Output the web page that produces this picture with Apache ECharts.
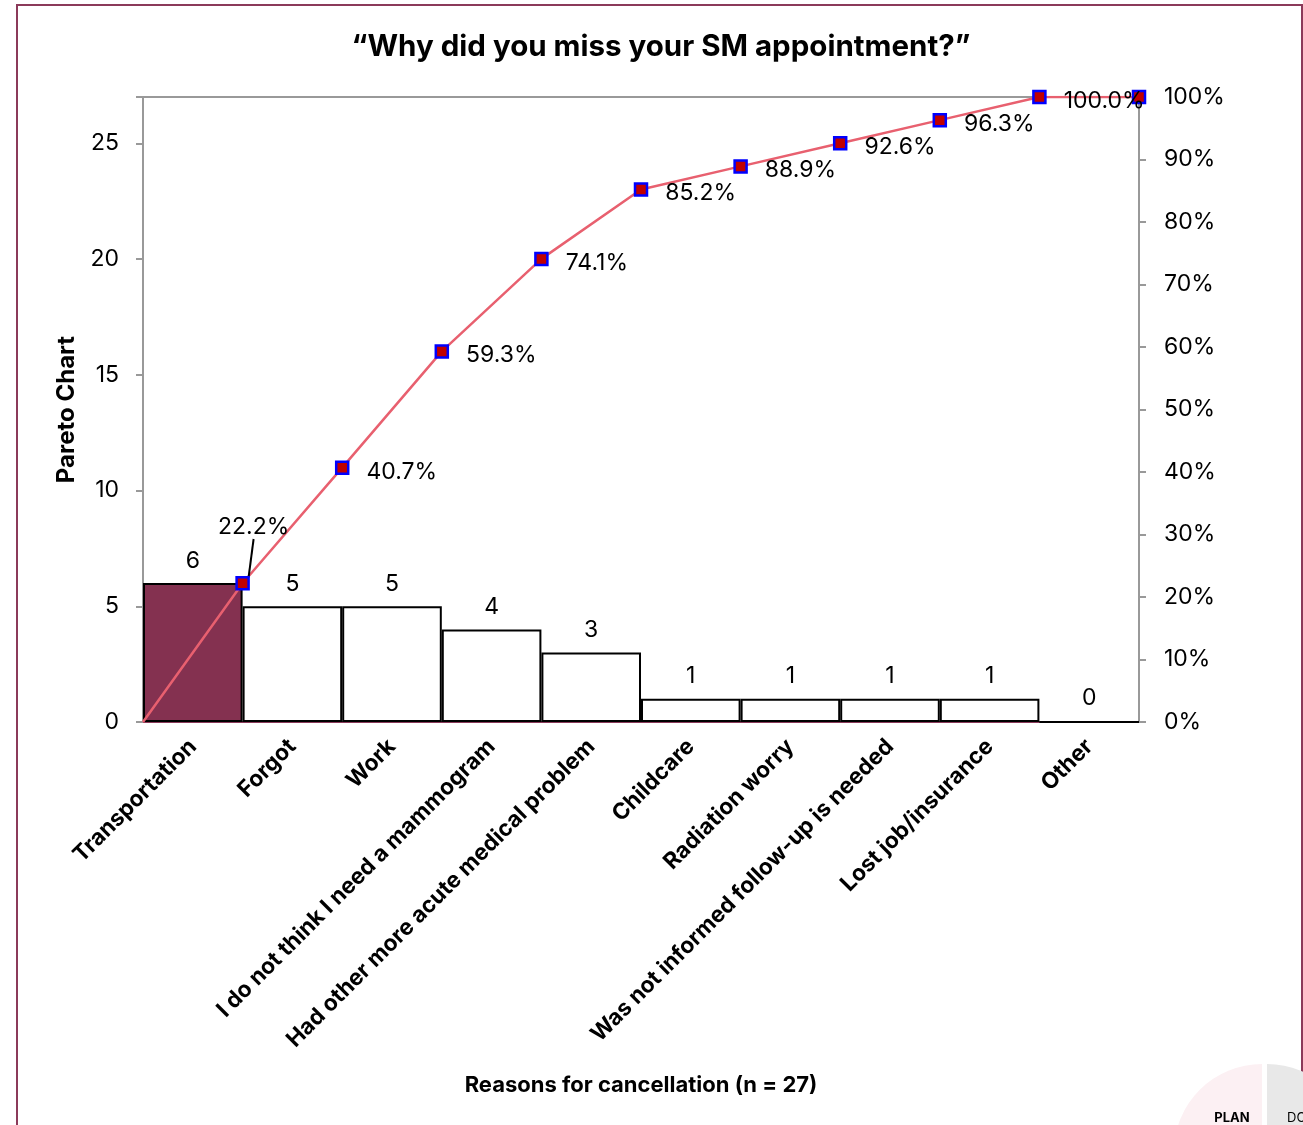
<!DOCTYPE html>
<html>
<head>
<meta charset="utf-8">
<script src="https://cdn.jsdelivr.net/npm/echarts@6/dist/echarts.min.js"></script>
<style>html,body{margin:0;padding:0;background:#fff;}#c{width:1303px;height:1125px;}</style>
</head>
<body>
<div id="c"></div>
<script>
const categories = ['Transportation','Forgot','Work','I do not think I need a mammogram','Had other more acute medical problem','Childcare','Radiation worry','Was not informed follow-up is needed','Lost job/insurance','Other'];
const counts = [6,5,5,4,3,1,1,1,1,0];
const cumulativePct = [0,22.2,40.7,59.3,74.1,85.2,88.9,92.6,96.3,100.0,100.0];
const leftTicks = [0,5,10,15,20,25];
const rightTicks = ['0%','10%','20%','30%','40%','50%','60%','70%','80%','90%','100%'];

const FONT = 'Inter, "Liberation Sans", sans-serif';
const NUMSIZE = 23;
const chart = echarts.init(document.getElementById('c'));

const barData = counts.map((v,i)=>({
  value:v,
  itemStyle: i===0 ? {color:'#843150', borderColor:'#000', borderWidth:2} : {color:'#fff', borderColor:'#000', borderWidth:2}
}));

const lineData = cumulativePct.map((v,i)=>{
  const d = {value:[i,v]};
  if(i===0){ d.symbol='none'; d.label={show:false}; }
  if(i===1){ d.label={position:'top', distance:8}; d.labelLine={show:true, lineStyle:{color:'#000', width:2}}; }
  if(i===10){ d.label={show:false}; }
  return d;
});

chart.setOption({
  animation:false,
  title:{
    text:'\u201CWhy did you miss your SM appointment?\u201D',
    left:656, textAlign:'center', top:27,
    textStyle:{fontFamily:FONT, fontWeight:'bold', fontSize:29.5, color:'#000'}
  },
  grid:{left:143, right:164, top:97, bottom:403, show:true, borderColor:'#999', borderWidth:2, backgroundColor:'transparent'},
  xAxis:[{
    type:'category', data:categories, boundaryGap:true,
    axisLine:{lineStyle:{color:'#8B3A5A', width:2}},
    axisTick:{show:false},
    axisLabel:{rotate:45, margin:21, interval:0, fontFamily:FONT, fontWeight:'bold', fontSize:22.5, color:'#000'},
    name:'Reasons for cancellation (n = 27)', nameLocation:'middle', nameGap:352,
    nameTextStyle:{fontFamily:FONT, fontWeight:'bold', fontSize:22, color:'#000'}
  },{
    type:'value', min:0, max:10, show:false
  }],
  yAxis:[{
    type:'value', min:0, max:27, interval:5,
    axisLine:{show:true, lineStyle:{color:'#999', width:2}},
    axisTick:{show:true, length:7, lineStyle:{color:'#999', width:2}},
    splitLine:{show:false},
    axisLabel:{margin:24, fontFamily:FONT, fontSize:NUMSIZE, color:'#000',
      formatter:v=>leftTicks.indexOf(v)>=0?String(v):''},
    name:'Pareto Chart', nameLocation:'middle', nameGap:64, nameRotate:90,
    nameTextStyle:{fontFamily:FONT, fontWeight:'bold', fontSize:24, color:'#000'}
  },{
    type:'value', min:0, max:100, interval:10, position:'right',
    axisLine:{show:true, lineStyle:{color:'#999', width:2}},
    axisTick:{show:true, length:7, lineStyle:{color:'#999', width:2}},
    splitLine:{show:false},
    axisLabel:{margin:25, fontFamily:FONT, fontSize:NUMSIZE, color:'#000',
      formatter:v=>rightTicks[Math.round(v/10)]}
  }],
  series:[{
    type:'bar', data:barData, xAxisIndex:0, yAxisIndex:0,
    barWidth:'100%', barCategoryGap:0,
    label:{show:true, position:'top', distance:11, fontFamily:FONT, fontSize:NUMSIZE, color:'#000'},
    z:2
  },{
    type:'line', data:lineData, xAxisIndex:1, yAxisIndex:1,
    lineStyle:{color:'#E8606F', width:2.5},
    symbol:'rect', symbolSize:12,
    itemStyle:{color:'#C00000', borderColor:'#0000FF', borderWidth:2.5},
    label:{show:true, position:'right', distance:17, fontFamily:FONT, fontSize:NUMSIZE, color:'#000',
      formatter:p=>p.value[1].toFixed(1)+'%'},
    labelLine:{show:false},
    labelLayout:function(p){
      if(p.dataIndex===1){ return {dx:11, dy:-29}; }
      return {dy:4};
    },
    z:5
  }],
  graphic:[
    {type:'rect', shape:{x:17, y:5, width:1285, height:1200}, style:{fill:'none', stroke:'#8B3A5A', lineWidth:2}, z:-1},
    {type:'sector', shape:{cx:1262, cy:1152, r0:0, r:88, startAngle:Math.PI, endAngle:Math.PI*1.5}, style:{fill:'#FCF0F3'}, z:10},
    {type:'sector', shape:{cx:1267, cy:1152, r0:0, r:88, startAngle:Math.PI*1.5, endAngle:Math.PI*2}, style:{fill:'#E8E8E8'}, z:10},
    {type:'text', style:{text:'PLAN', x:1232, y:1118, textAlign:'center', textVerticalAlign:'middle', font:'bold 13px '+FONT, fill:'#000'}, z:11},
    {type:'text', style:{text:'DO', x:1287, y:1118, textAlign:'left', textVerticalAlign:'middle', font:'13px '+FONT, fill:'#000'}, z:11}
  ]
});
</script>
</body>
</html>
